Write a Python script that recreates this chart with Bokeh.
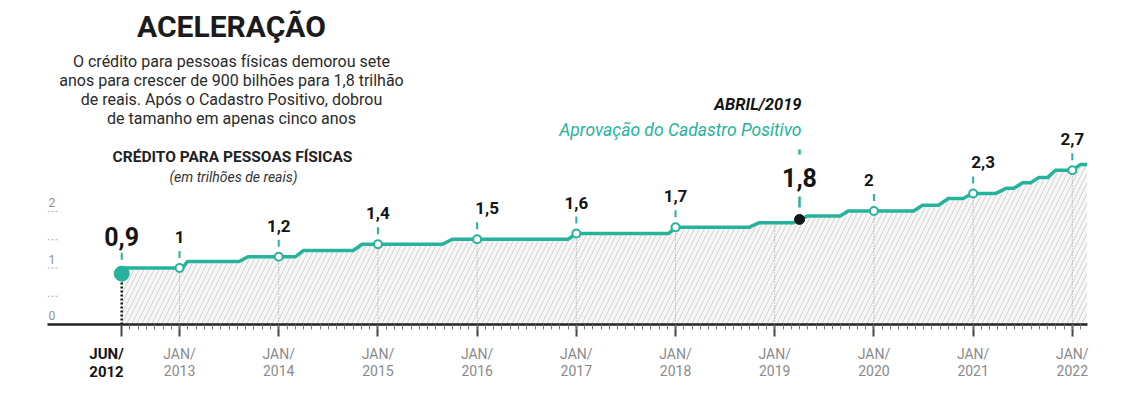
import numpy as np
from bokeh.plotting import figure
from bokeh.models import Range1d, FixedTicker, Label, LinearAxis
from bokeh.core.properties import value
from bokeh.embed import file_html
from bokeh.resources import INLINE

# ---------------- data ----------------
# step-like credit line (fractional years, trillions of reais)
line_x = [2012.417, 2013.03, 2013.08, 2013.60, 2013.69, 2014.17, 2014.25, 2014.75, 2014.84,
          2015.65, 2015.75, 2016.92, 2017.00, 2017.93, 2018.00, 2018.74, 2018.84, 2019.19,
          2019.25, 2019.33, 2019.66, 2019.74, 2020.40, 2020.49, 2020.65, 2020.75, 2020.90,
          2020.99, 2021.23, 2021.33, 2021.41, 2021.50, 2021.58, 2021.66, 2021.75, 2021.83,
          2022.00, 2022.08, 2022.15]
line_y = [1.00, 1.00, 1.115, 1.115, 1.20, 1.20, 1.31, 1.31, 1.42,
          1.42, 1.51, 1.51, 1.61, 1.61, 1.72, 1.72, 1.80, 1.80,
          1.86, 1.92, 1.92, 2.01, 2.01, 2.11, 2.11, 2.23, 2.23,
          2.32, 2.32, 2.41, 2.41, 2.51, 2.51, 2.60, 2.60, 2.73,
          2.73, 2.83, 2.83]

start_date = 2012.417          # JUN/2012
start_value = 0.9
start_label = "0,9"
start_tick_label = "JUN/\n2012"

cp_date = 2019.25              # ABRIL/2019
cp_value = 1.86
cp_label = "1,8"

jan_years = [2013, 2014, 2015, 2016, 2017, 2018, 2019, 2020, 2021, 2022]
dot_years = [2013, 2014, 2015, 2016, 2017, 2018, 2020, 2021, 2022]
dot_values = [1.0, 1.2, 1.42, 1.51, 1.61, 1.72, 2.01, 2.32, 2.73]
dot_labels = ["1", "1,2", "1,4", "1,5", "1,6", "1,7", "2", "2,3", "2,7"]

y_tick_values = [0, 1, 2]
y_tick_labels = ["0", "1", "2"]
y_stub_values = [0.5, 1.0, 1.5, 2.0]

title = "ACELERAÇÃO"
subtitle = ["O crédito para pessoas físicas demorou sete",
            "anos para crescer de 900 bilhões para 1,8 trilhão",
            "de reais. Após o Cadastro Positivo, dobrou",
            "de tamanho em apenas cinco anos"]
chart_title = "CRÉDITO PARA PESSOAS FÍSICAS"
chart_unit = "(em trilhões de reais)"
event_date_text = "ABRIL/2019"
event_text = "Aprovação do Cadastro Positivo"

# ---------------- style ----------------
TEAL = "#27b29c"
COND = "Roboto"
SANS = "Roboto"
label_dx = [0, 0, 0, 10, 0, 0, -5, 10, 0]

X0, X1 = 2011.669, 2022.153
Y1 = 5.593
PXY = Y1 / 316.0            # data units per vertical pixel
PXX = (X1 - X0) / 1040.0    # data units per horizontal pixel


def X(px):  # picture x -> data x (for annotations)
    return X0 + (px - 47) * PXX


def Y(py):  # picture y -> data y (for annotations)
    return (324 - py) * PXY


p = figure(width=1116, height=392, output_backend="svg", toolbar_location=None,
           x_range=Range1d(X0, X1), y_range=Range1d(0, Y1),
           y_axis_location=None,
           min_border_left=47, min_border_right=29, min_border_top=8, min_border_bottom=68,
           background_fill_color="white", border_fill_color="white",
           outline_line_color=None)
p.xgrid.visible = False
p.ygrid.visible = False

# hatched area + line
p.varea(x=line_x, y1=0, y2=line_y, fill_color="#f7f7f7",
        hatch_pattern="/", hatch_color="#d2d2d2", hatch_scale=10, hatch_weight=1)

# dotted verticals
tops = np.interp(jan_years, line_x, line_y)
p.segment(x0=jan_years, y0=0, x1=jan_years, y1=tops, line_color="#9a9a9a",
          line_width=1, line_dash="1 2")
p.segment(x0=[start_date], y0=[0], x1=[start_date], y1=[start_value],
          line_color="#111111", line_width=2.5, line_dash="2 2")

p.line(line_x, line_y, line_color=TEAL, line_width=3.5, line_join="round")

# y stubs and labels
p.segment(x0=X0, y0=y_stub_values, x1=X0 + 10 * PXX, y1=y_stub_values,
          line_color="#aaaaaa", line_width=1.2, line_dash="2 2")
p.text(x=X0, y=y_tick_values, text=y_tick_labels, x_offset=1, y_offset=-9,
       text_align="left", text_baseline="middle", text_font=value(SANS),
       text_font_size="12px", text_color="#8f8f8f")

# teal dashes above points
dv = np.array(dot_values)
p.segment(x0=dot_years, y0=dv + 10 * PXY, x1=dot_years, y1=dv + 17 * PXY,
          line_color=TEAL, line_width=2)
p.segment(x0=[start_date], y0=[start_value + 14 * PXY], x1=[start_date],
          y1=[start_value + 21 * PXY], line_color=TEAL, line_width=2)
p.segment(x0=[cp_date, cp_date], y0=[cp_value + 12 * PXY, cp_value + 65 * PXY],
          x1=[cp_date, cp_date], y1=[cp_value + 23 * PXY, cp_value + 70 * PXY],
          line_color=TEAL, line_width=2.5)

# points
p.scatter(dot_years, dot_values, size=8, fill_color="white", line_color=TEAL, line_width=2)
p.scatter([start_date], [start_value], size=15, fill_color=TEAL, line_color=TEAL)
p.scatter([cp_date], [cp_value], size=10, fill_color="#151515", line_color="#151515")

# value labels
p.text(x=dot_years, y=dot_values, text=dot_labels, x_offset=label_dx, y_offset=-31,
       text_align="center", text_baseline="middle", text_font=value(COND),
       text_font_style="bold", text_font_size="17px", text_color="#151515")
p.text(x=[start_date], y=[start_value], text=[start_label], y_offset=-37,
       text_align="center", text_baseline="middle", text_font=value(COND),
       text_font_style="bold", text_font_size="25px", text_color="#151515")
p.text(x=[cp_date], y=[cp_value], text=[cp_label], y_offset=-42,
       text_align="center", text_baseline="middle", text_font=value(COND),
       text_font_style="bold", text_font_size="25px", text_color="#151515")

# x axis (JAN ticks, gray labels)
ax = p.xaxis[0]
majors = [start_date] + jan_years
minors = [start_date + k / 12.0 for k in range(1, 120) if start_date + k / 12.0 < X1]
ax.ticker = FixedTicker(ticks=majors, minor_ticks=minors)
overrides = {start_date: " "}
for yv in jan_years:
    overrides[yv] = "JAN/\n%d" % yv
ax.major_label_overrides = overrides
ax.axis_line_color = "#222222"
ax.axis_line_width = 2.5
ax.major_tick_in = 0
ax.major_tick_out = 12
ax.major_tick_line_color = "#444444"
ax.major_tick_line_width = 2
ax.minor_tick_in = 0
ax.minor_tick_out = 5
ax.minor_tick_line_color = "#777777"
ax.minor_tick_line_width = 1
ax.major_label_standoff = 9
ax.major_label_text_font = COND
ax.major_label_text_font_size = "14px"
ax.major_label_text_color = "#8a8a8a"
ax.major_label_text_line_height = 1.1

# second axis carrying the bold JUN/2012 label, pulled up next to the first one
jun_pos = X(106)
ax2 = LinearAxis(ticker=FixedTicker(ticks=[jun_pos], minor_ticks=[]),
                 major_label_overrides={jun_pos: start_tick_label},
                 axis_line_color=None, major_tick_line_color=None,
                 minor_tick_line_color=None, major_tick_out=0, major_tick_in=0,
                 minor_tick_out=0, minor_tick_in=0,
                 major_label_standoff=-38,
                 major_label_text_font=COND, major_label_text_font_style="bold",
                 major_label_text_font_size="15px", major_label_text_color="#151515",
                 major_label_text_line_height=1.05)
p.add_layout(ax2, "below")

# annotations
def add_label(text, px, py, size, font=SANS, style="normal", color="#222222", align="center"):
    p.add_layout(Label(x=X(px), y=Y(py), text=text, text_align=align, text_baseline="middle",
                       text_font=font, text_font_style=style, text_font_size=size,
                       text_color=color))

add_label(title, 231, 26, "30px", font=COND, style="bold", color="#1b1b1b")
for i, line in enumerate(subtitle):
    add_label(line, 231, 61 + 19 * i, "16px", color="#2a2a2a")
add_label(chart_title, 232, 156, "15.5px", style="bold", color="#222222")
add_label(chart_unit, 233, 176, "14px", style="italic", color="#333333")
add_label(event_date_text, 801, 104, "16.5px", font=COND, style="bold italic",
          color="#151515", align="right")
add_label(event_text, 801, 129, "17.5px", style="italic", color=TEAL, align="right")

open("out.html", "w").write(file_html(p, INLINE))
